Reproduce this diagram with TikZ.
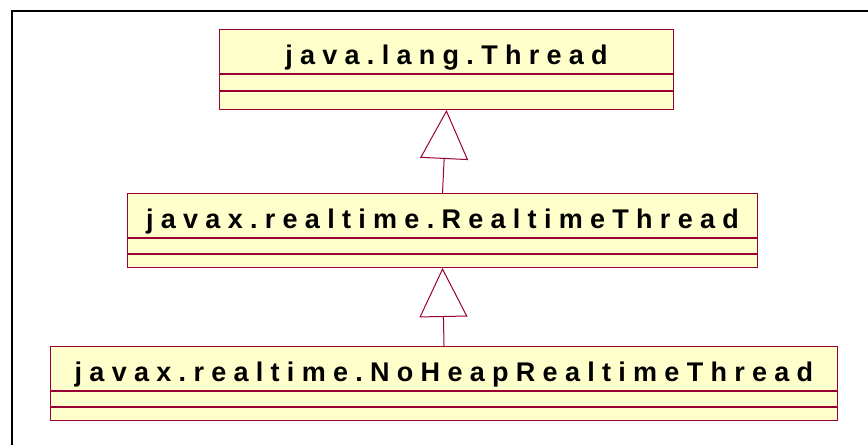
\documentclass[tikz,border=0pt]{standalone}
\usepackage{fontspec}
\newfontfamily\umlfont[LetterSpace=27]{Liberation Sans}
\usetikzlibrary{arrows.meta}
\definecolor{umlfill}{HTML}{FFFFCC}
\definecolor{umlline}{HTML}{990033}
\begin{document}
\begin{tikzpicture}[x=1pt,y=-1pt,
  title/.style={draw=umlline, fill=umlfill, line width=1pt, minimum height=44pt, inner sep=0pt, text height=26pt, text depth=0pt, anchor=north west, font=\umlfont\bfseries\fontsize{27}{30}\selectfont},
  comp/.style={draw=umlline, fill=umlfill, line width=1pt, inner sep=0pt, anchor=north west},
  inherit/.style={draw=umlline, line width=1pt, -{Triangle[open, length=49pt, width=48pt]}}]
\useasboundingbox (0,0) rectangle (868,445);
\draw[line width=2.5pt] (12,445) -- (12,11) -- (868,11);
% class 1
\node[title, minimum width=454pt] (a1) at (219,29) {java.lang.Thread};
\node[comp, minimum width=454pt, minimum height=16pt] (a2) at (a1.south west) {};
\node[comp, minimum width=454pt, minimum height=18pt] (a3) at (a2.south west) {};
% class 2
\node[title, minimum width=630pt] (b1) at (127,193) {javax.realtime.RealtimeThread};
\node[comp, minimum width=630pt, minimum height=15pt] (b2) at (b1.south west) {};
\node[comp, minimum width=630pt, minimum height=13pt] (b3) at (b2.south west) {};
% class 3
\node[title, minimum width=787pt] (c1) at (50,346) {javax.realtime.NoHeapRealtimeThread};
\node[comp, minimum width=787pt, minimum height=15pt] (c2) at (c1.south west) {};
\node[comp, minimum width=787pt, minimum height=13pt] (c3) at (c2.south west) {};
% generalizations
\draw[inherit] (b1.north) -- (a3.south);
\draw[inherit] (c1.north) -- (b3.south);
\end{tikzpicture}
\end{document}
